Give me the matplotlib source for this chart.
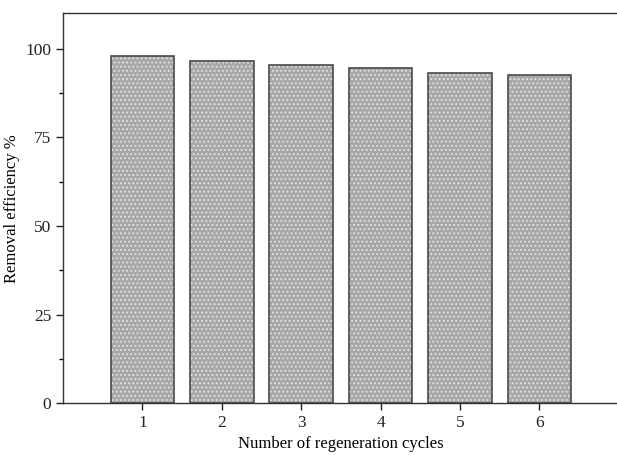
import matplotlib
matplotlib.use('Agg')
import matplotlib.pyplot as plt
from matplotlib.ticker import MultipleLocator

cycles = [1, 2, 3, 4, 5, 6]
efficiency = [97.8, 96.5, 95.5, 94.4, 93.2, 92.6]

plt.rcParams['font.family'] = ['Liberation Serif', 'DejaVu Serif']
plt.rcParams['hatch.linewidth'] = 0.8

fig = plt.figure(figsize=(6.17, 4.55), dpi=100)
ax = fig.add_axes([0.102, 0.114, 0.901, 0.857])

# textured fill (white dots on gray), then the dark outline on top
ax.bar(cycles, efficiency, width=0.8, color='#a8a8a8', edgecolor='#e6e6e6',
       linewidth=0, hatch='....')
ax.bar(cycles, efficiency, width=0.8, fill=False, edgecolor='#4a4a4a',
       linewidth=1.2)

ax.set_xlim(0, 7)
ax.set_ylim(0, 110)
ax.set_xticks(cycles)
ax.yaxis.set_major_locator(MultipleLocator(25))
ax.yaxis.set_minor_locator(MultipleLocator(12.5))
ax.tick_params(axis='both', which='major', direction='out', length=5, width=1,
               labelsize=12.5, colors='#222222')
ax.tick_params(axis='y', which='minor', direction='out', length=3, width=1)

for s in ax.spines.values():
    s.set_linewidth(1.0)
    s.set_color('#333333')

ax.set_xlabel('Number of regeneration cycles', fontsize=12, labelpad=4)
ax.set_ylabel('Removal efficiency %', fontsize=12, labelpad=4)

fig.savefig('out.png', dpi=100)
